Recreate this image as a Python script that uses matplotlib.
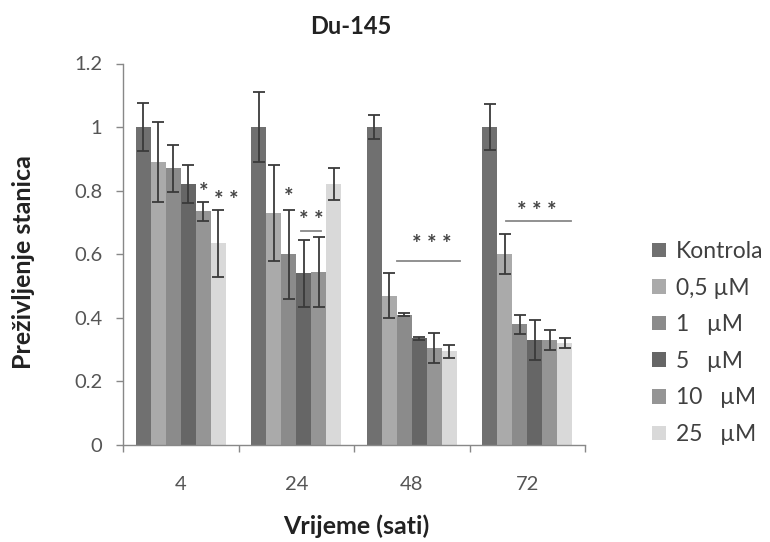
import matplotlib
matplotlib.use("Agg")
import matplotlib.pyplot as plt
from matplotlib.patches import Patch
import numpy as np

plt.rcParams['font.family'] = ['Lato', 'DejaVu Sans']

categories = ["4", "24", "48", "72"]
series = ["Kontrola", "0,5 µM", "1   µM", "5   µM", "10   µM", "25   µM"]
colors = ["#707070", "#aaaaaa", "#8b8b8b", "#666666", "#959595", "#d9d9d9"]

kontrola = [1.00, 1.00, 1.00, 1.00]
c05 = [0.89, 0.73, 0.47, 0.60]
c1 = [0.87, 0.60, 0.41, 0.38]
c5 = [0.82, 0.54, 0.335, 0.33]
c10 = [0.735, 0.545, 0.305, 0.33]
c25 = [0.635, 0.82, 0.295, 0.32]

e_kontrola = [0.075, 0.11, 0.038, 0.072]
e_c05 = [0.125, 0.15, 0.072, 0.063]
e_c1 = [0.075, 0.14, 0.005, 0.03]
e_c5 = [0.06, 0.105, 0.005, 0.064]
e_c10 = [0.03, 0.11, 0.048, 0.032]
e_c25 = [0.105, 0.05, 0.02, 0.015]

values = [kontrola, c05, c1, c5, c10, c25]
errors = [e_kontrola, e_c05, e_c1, e_c5, e_c10, e_c25]

yticks = [0, 0.2, 0.4, 0.6, 0.8, 1, 1.2]
ytick_labels = ["0", "0.2", "0.4", "0.6", "0.8", "1", "1.2"]

fig = plt.figure(figsize=(7.7, 5.42), dpi=100)
ax = fig.add_axes([123/770, 1-445/542, (585-123)/770, (445-63.5)/542])

x = np.arange(len(categories))
bw = 0.13
n = len(series)
for j in range(n):
    off = (j - (n-1)/2) * bw
    ax.bar(x + off, values[j], width=bw, color=colors[j], edgecolor='none',
           yerr=errors[j], capsize=4.5,
           error_kw=dict(ecolor="#3a3a3a", elinewidth=1.3, capthick=1.3),
           label=series[j], zorder=2)

def bx(cat, j):
    return cat + (j - (n-1)/2) * bw

star_kw = dict(ha='center', va='center', fontsize=16, fontweight='bold', color='#444444')
# 4 h
ax.text(bx(0, 4), 0.795, "*", **star_kw)
ax.text(bx(0, 5) + 0.07, 0.77, "* *", **star_kw)
# 24 h
ax.text(bx(1, 2), 0.78, "*", **star_kw)
ax.text((bx(1, 3) + bx(1, 4))/2, 0.705, "* *", **star_kw)
ax.plot([bx(1, 3) - 0.02, bx(1, 4) + 0.02], [0.674, 0.674], color='#888888', lw=1.3)
# 48 h
ax.text(2.175, 0.63, "* * *", **star_kw)
ax.plot([bx(2, 1) + 0.065, bx(2, 5) + 0.09], [0.58, 0.58], color='#888888', lw=1.3)
# 72 h
ax.text(3.08, 0.735, "* * *", **star_kw)
ax.plot([bx(3, 1) + 0.01, bx(3, 5) + 0.05], [0.706, 0.706], color='#888888', lw=1.3)

ax.set_xlim(-0.5, 3.5)
ax.set_ylim(0, 1.2)
ax.set_yticks(yticks)
ax.set_yticklabels(ytick_labels)
ax.set_xticks(x)
ax.set_xticklabels(categories)
ax.set_xticks(np.arange(-0.5, 3.6, 1.0), minor=True)
ax.tick_params(axis='x', which='major', length=0, pad=22, labelsize=14.5, labelcolor='#555555')
ax.tick_params(axis='x', which='minor', length=5, direction='out', color='#888888', width=1)
ax.tick_params(axis='y', length=5, direction='out', color='#888888', width=1, pad=10,
               labelsize=14.5, labelcolor='#555555')
for s in ['top', 'right']:
    ax.spines[s].set_visible(False)
for s in ['left', 'bottom']:
    ax.spines[s].set_color('#888888')
    ax.spines[s].set_linewidth(1)

fig.text(351/770, 1-27/542, "Du-145", ha='center', va='center', fontsize=17, fontweight='bold', color='#222222')
fig.text(24/770, 1-262/542, "Preživljenje stanica", ha='center', va='center', rotation=90,
         fontsize=18, fontweight='bold', color='#222222')
fig.text(356/770, 1-526/542, "Vrijeme (sati)", ha='center', va='center', fontsize=18,
         fontweight='bold', color='#222222')

handles = [Patch(facecolor=c, edgecolor='none') for c in colors]
leg = fig.legend(handles, series, loc='center left', bbox_to_anchor=(643/770, 1-343/542),
                 frameon=False, fontsize=16.5, handlelength=0.6, handleheight=0.6,
                 handletextpad=0.45, labelspacing=0.68, borderaxespad=0)
for t in leg.get_texts():
    t.set_color('#404040')

fig.savefig("out.png", dpi=100)
